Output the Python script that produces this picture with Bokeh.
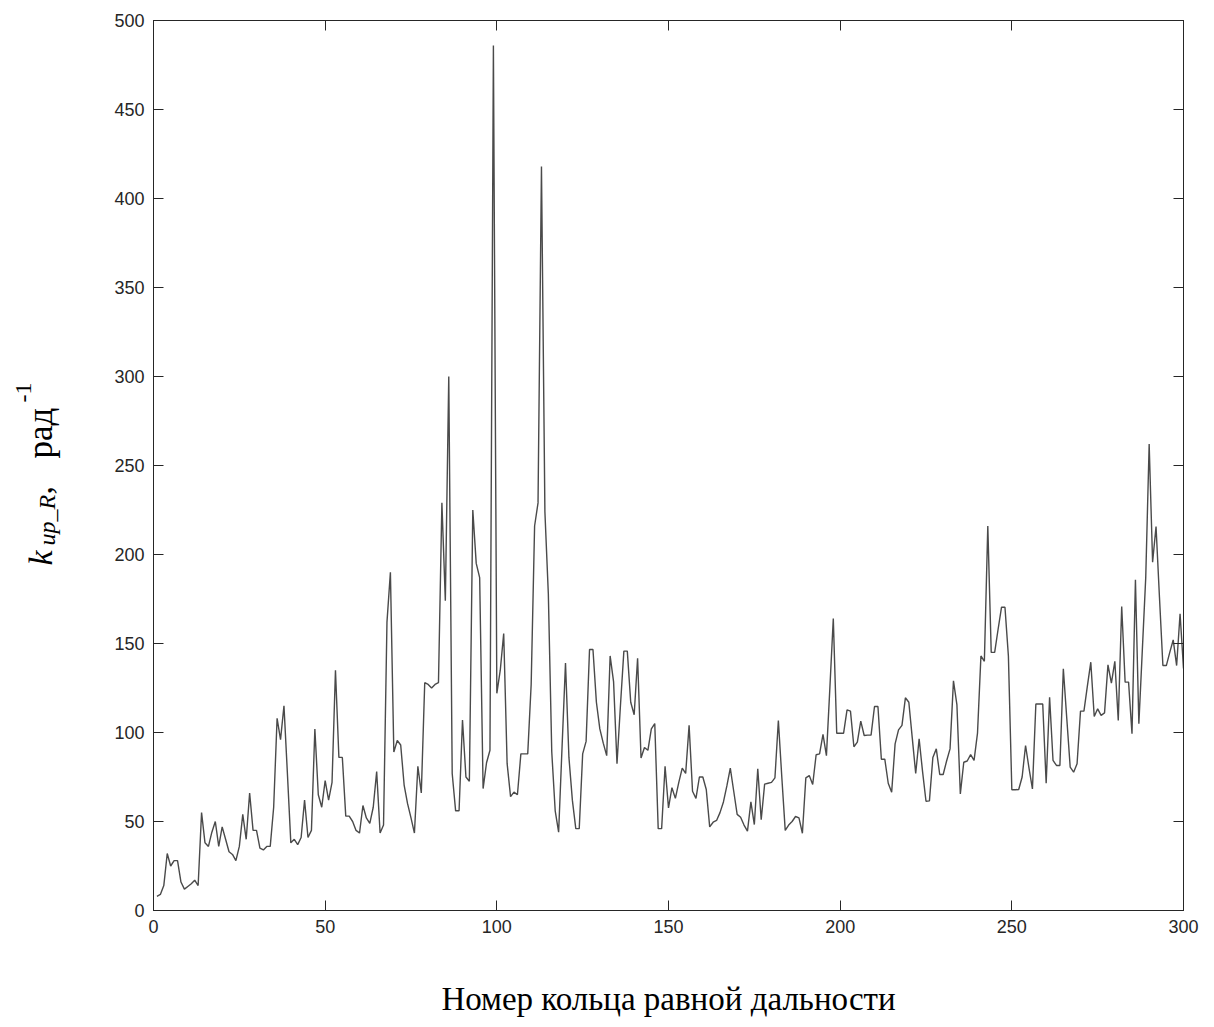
import math
from bokeh.plotting import figure
from bokeh.models import Range1d, LinearAxis, FixedTicker
from bokeh.layouts import row
from bokeh.core.properties import value
from bokeh.embed import file_html
from bokeh.resources import INLINE

# ring number (1..300) and k values
ring = list(range(1, 301))
k_values = [
    8, 9, 14, 32, 25, 28, 28, 16, 12, 13.5,
    15, 17, 14, 55, 38, 36, 44, 50, 36, 47,
    40, 33, 31.5, 28, 36, 54, 40, 66, 45, 45,
    35, 34, 36, 36, 58, 108, 96, 115, 77, 38,
    40, 37, 41, 62, 41, 45, 102, 65, 58, 73,
    62, 72, 135, 86, 86, 53, 53, 50, 45, 43.5,
    59, 52, 49, 58, 78, 43.5, 48, 162, 190, 89,
    95.5, 93, 70.5, 60, 52, 43.5, 81, 66, 128, 127,
    125, 127, 128, 229, 174, 300, 77, 56, 56, 107,
    75, 72.6, 225, 195, 187, 68.5, 83, 90, 486, 122,
    135, 155.6, 82.5, 64, 66.5, 65, 88, 88, 88, 127,
    216, 229, 418, 224, 178, 89, 56, 44, 92, 139,
    86, 62, 46, 46, 88, 95, 146.6, 146.6, 117, 102,
    94, 87, 143, 128.6, 82.5, 115, 145.7, 145.7, 117, 110,
    141.7, 85.7, 91.6, 90, 102, 105, 46, 46, 81, 57.6,
    69, 63, 72, 80, 77, 104, 67, 63, 75, 75,
    68, 47, 49.6, 50.6, 55, 61, 70, 80, 67, 54,
    52.4, 48, 44.6, 61, 48.3, 79.6, 51, 71, 71.5, 72,
    74.5, 106.7, 75, 45, 48, 50, 52.8, 52, 43.4, 74.5,
    75.8, 70.8, 87.5, 88, 99, 87, 125, 164, 99.6, 99.6,
    99.6, 112.7, 112, 92, 94.6, 106.4, 98.3, 98.5, 98.5, 114.6,
    114.6, 85, 85, 71.5, 66.5, 93.6, 101.5, 104, 119.5, 117,
    97, 77, 96.4, 78, 61.4, 61.6, 86, 90.8, 76.4, 76.4,
    84, 90.8, 129, 115.7, 65.5, 83.3, 84, 87.6, 84.3, 99.6,
    143, 140, 216, 145, 145, 158, 170.4, 170.4, 143, 67.8,
    67.8, 68, 75, 92.7, 80, 68.3, 116, 116, 116, 71.5,
    119.8, 84.3, 81.5, 81.5, 135.8, 108, 80.5, 77.7, 82.4, 112,
    112, 126, 139.5, 109, 113.3, 109.6, 111, 138, 127.7, 140,
    106.7, 170.8, 128.3, 128.3, 99.3, 185.8, 104.9, 146, 187, 262,
    195.7, 215.7, 176, 137.6, 137.6, 145, 152, 137.6, 166.7, 136,
]
x_ticks = [0, 50, 100, 150, 200, 250, 300]
y_ticks = [0, 50, 100, 150, 200, 250, 300, 350, 400, 450, 500]
x_title = "Номер кольца равной дальности"

AX = "#262626"
H = 1027
LW = 80  # width of the narrow panel holding the rotated y title
TOP, BOTTOM = 20, 117

p = figure(width=1214 - LW, height=H,
           x_range=Range1d(0, 300), y_range=Range1d(0, 500),
           output_backend="svg", toolbar_location=None,
           min_border_left=153 - LW, min_border_right=31,
           min_border_top=TOP, min_border_bottom=BOTTOM)
p.grid.visible = False
p.outline_line_color = AX
p.outline_line_width = 1

def style(ax, ticks, labels=True):
    ax.ticker = FixedTicker(ticks=ticks)
    ax.axis_line_color = AX
    ax.axis_line_width = 1
    ax.major_tick_line_color = AX
    ax.major_tick_in = 10
    ax.major_tick_out = 0
    ax.minor_tick_line_color = None
    ax.major_label_text_font = "Liberation Sans"
    ax.major_label_text_font_size = "18px"
    ax.major_label_text_color = AX
    ax.major_label_standoff = 9
    if not labels:
        ax.major_label_overrides = {t: "" for t in ticks}
        ax.major_label_standoff = 0

style(p.xaxis[0], x_ticks)
style(p.yaxis[0], y_ticks)
p.xaxis[0].axis_label = x_title
p.xaxis[0].axis_label_text_font = "Liberation Serif"
p.xaxis[0].axis_label_text_font_size = "33px"
p.xaxis[0].axis_label_text_font_style = "normal"
p.xaxis[0].axis_label_text_color = "black"
p.xaxis[0].axis_label_standoff = 45

top = LinearAxis()
style(top, x_ticks, labels=False)
p.add_layout(top, "above")
right = LinearAxis()
style(right, y_ticks, labels=False)
p.add_layout(right, "right")

p.line(ring, k_values, line_color="#4a4a4a", line_width=1.4)

# narrow left panel: rotated y title built from styled pieces.
# Its frame is aligned with the main frame (page rows TOP..H-BOTTOM), so data y = H - page y.
q = figure(width=LW, height=H, x_range=Range1d(0, LW), y_range=Range1d(BOTTOM, H - TOP),
           output_backend="svg", toolbar_location=None,
           min_border_left=0, min_border_right=0,
           min_border_top=TOP, min_border_bottom=BOTTOM)
q.axis.visible = False
q.grid.visible = False
q.outline_line_color = None

def ylab(text, px, py, size, italic=False):
    q.text(x=[px], y=[H - py], text=[text], angle=math.pi / 2,
           text_font=value("Liberation Serif"), text_font_size=size,
           text_font_style="italic" if italic else "normal",
           text_color="black", text_align="left", text_baseline="alphabetic")

ylab("k", 40, 565, "34px", True)
ylab("up_R", 46, 545, "24px", True)
ylab(",", 40, 494, "34px")
ylab("рад", 40, 458, "35px")
ylab("-1", 23, 402, "24px")

layout = row(q, p, spacing=0)
open("out.html", "w").write(file_html(layout, INLINE))
